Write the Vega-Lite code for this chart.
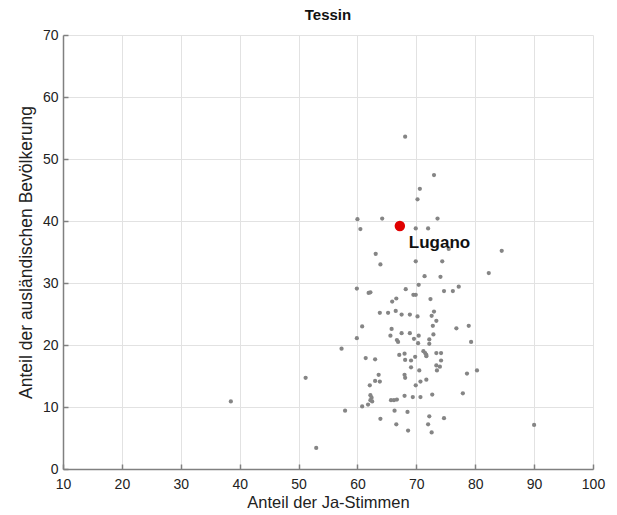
{
  "$schema": "https://vega.github.io/schema/vega-lite/v6.json",
  "autosize": "none",
  "width": 530,
  "height": 434,
  "padding": {"left": 63, "top": 35, "right": 24, "bottom": 46},
  "background": "white",
  "config": {
    "font": "Liberation Sans",
    "view": {"stroke": null},
    "axis": {
      "labelFont": "Liberation Sans",
      "titleFont": "Liberation Sans",
      "labelFontSize": 14,
      "titleFontSize": 16.5,
      "titleFontWeight": "normal",
      "labelColor": "#222",
      "titleColor": "#222",
      "labelFlush": false,
      "domainColor": "#808080",
      "domainWidth": 1.5,
      "tickColor": "#808080",
      "tickWidth": 1.5,
      "tickSize": -5,
      "gridColor": "#e2e2e2",
      "gridWidth": 1
    }
  },
  "title": {"text": "Tessin", "font": "Liberation Sans", "fontSize": 15, "fontWeight": "bold", "color": "#111", "offset": 5},
  "datasets": {
    "gemeinden": [
      {"ja": 68.1, "ausl": 53.6}, {"ja": 73.0, "ausl": 47.4}, {"ja": 70.6, "ausl": 45.2}, {"ja": 70.2, "ausl": 43.5},
      {"ja": 60.0, "ausl": 40.3}, {"ja": 64.2, "ausl": 40.4}, {"ja": 73.6, "ausl": 40.4}, {"ja": 60.5, "ausl": 38.7},
      {"ja": 69.9, "ausl": 38.8}, {"ja": 72.0, "ausl": 38.8}, {"ja": 63.1, "ausl": 34.7}, {"ja": 63.9, "ausl": 33.0},
      {"ja": 69.9, "ausl": 33.5}, {"ja": 74.4, "ausl": 33.5}, {"ja": 84.5, "ausl": 35.2}, {"ja": 75.5, "ausl": 35.5},
      {"ja": 71.4, "ausl": 31.1}, {"ja": 74.1, "ausl": 31.0}, {"ja": 82.3, "ausl": 31.6}, {"ja": 59.9, "ausl": 29.1},
      {"ja": 62.2, "ausl": 28.5}, {"ja": 61.9, "ausl": 28.4}, {"ja": 68.2, "ausl": 29.0}, {"ja": 70.4, "ausl": 29.7},
      {"ja": 69.5, "ausl": 28.1}, {"ja": 69.9, "ausl": 28.1}, {"ja": 74.7, "ausl": 28.7}, {"ja": 76.2, "ausl": 28.7},
      {"ja": 77.2, "ausl": 29.4},
      {"ja": 66.6, "ausl": 27.5}, {"ja": 72.4, "ausl": 27.4}, {"ja": 65.9, "ausl": 27.0}, {"ja": 63.8, "ausl": 25.2},
      {"ja": 65.2, "ausl": 25.2}, {"ja": 66.5, "ausl": 25.5}, {"ja": 67.5, "ausl": 24.9}, {"ja": 68.9, "ausl": 24.9},
      {"ja": 70.2, "ausl": 24.6}, {"ja": 73.0, "ausl": 25.4}, {"ja": 72.6, "ausl": 24.7}, {"ja": 73.4, "ausl": 23.9},
      {"ja": 60.8, "ausl": 23.0}, {"ja": 65.8, "ausl": 22.6}, {"ja": 72.8, "ausl": 23.1}, {"ja": 76.8, "ausl": 22.7},
      {"ja": 78.9, "ausl": 23.1}, {"ja": 59.9, "ausl": 21.1}, {"ja": 65.6, "ausl": 21.5}, {"ja": 67.5, "ausl": 21.9},
      {"ja": 68.9, "ausl": 21.9}, {"ja": 70.4, "ausl": 21.5}, {"ja": 72.9, "ausl": 21.7}, {"ja": 66.7, "ausl": 20.8},
      {"ja": 66.9, "ausl": 20.5}, {"ja": 69.6, "ausl": 21.0}, {"ja": 70.3, "ausl": 20.3}, {"ja": 72.2, "ausl": 20.9},
      {"ja": 72.2, "ausl": 20.2}, {"ja": 79.3, "ausl": 20.5}, {"ja": 57.3, "ausl": 19.4}, {"ja": 67.1, "ausl": 18.4},
      {"ja": 68.0, "ausl": 18.6}, {"ja": 71.2, "ausl": 19.0}, {"ja": 71.5, "ausl": 18.7}, {"ja": 71.7, "ausl": 18.4},
      {"ja": 71.7, "ausl": 18.2}, {"ja": 73.4, "ausl": 18.7}, {"ja": 74.2, "ausl": 18.7}, {"ja": 61.4, "ausl": 17.9},
      {"ja": 63.0, "ausl": 17.7}, {"ja": 68.1, "ausl": 17.6}, {"ja": 69.1, "ausl": 17.5}, {"ja": 69.8, "ausl": 18.1},
      {"ja": 74.2, "ausl": 17.5}, {"ja": 69.1, "ausl": 16.4}, {"ja": 73.4, "ausl": 16.7}, {"ja": 74.0, "ausl": 16.5},
      {"ja": 73.5, "ausl": 15.9}, {"ja": 70.5, "ausl": 15.9}, {"ja": 80.3, "ausl": 15.9}, {"ja": 78.6, "ausl": 15.4},
      {"ja": 51.2, "ausl": 14.7}, {"ja": 63.6, "ausl": 15.2}, {"ja": 68.0, "ausl": 15.2}, {"ja": 68.1, "ausl": 14.7},
      {"ja": 63.0, "ausl": 14.2}, {"ja": 63.8, "ausl": 14.1}, {"ja": 71.7, "ausl": 14.4}, {"ja": 70.7, "ausl": 14.1},
      {"ja": 69.9, "ausl": 13.5}, {"ja": 62.1, "ausl": 13.5}, {"ja": 77.9, "ausl": 12.2}, {"ja": 72.7, "ausl": 12.0},
      {"ja": 62.2, "ausl": 11.9}, {"ja": 62.4, "ausl": 11.5}, {"ja": 62.5, "ausl": 10.9}, {"ja": 62.2, "ausl": 11.1},
      {"ja": 61.8, "ausl": 10.4}, {"ja": 60.8, "ausl": 10.1}, {"ja": 65.7, "ausl": 11.1}, {"ja": 66.2, "ausl": 11.1},
      {"ja": 66.7, "ausl": 11.2}, {"ja": 68.0, "ausl": 11.8}, {"ja": 69.4, "ausl": 11.6}, {"ja": 70.7, "ausl": 11.6},
      {"ja": 57.9, "ausl": 9.4}, {"ja": 66.3, "ausl": 9.4}, {"ja": 68.5, "ausl": 9.2}, {"ja": 72.2, "ausl": 8.5},
      {"ja": 74.7, "ausl": 8.2}, {"ja": 63.9, "ausl": 8.1}, {"ja": 66.6, "ausl": 7.2}, {"ja": 72.0, "ausl": 7.2},
      {"ja": 68.6, "ausl": 6.2}, {"ja": 72.6, "ausl": 5.9}, {"ja": 53.0, "ausl": 3.4}, {"ja": 38.5, "ausl": 10.9},
      {"ja": 90.0, "ausl": 7.1}
    ],
    "lugano": [{"ja": 67.2, "ausl": 39.2, "name": "Lugano"}]
  },
  "layer": [
    {
      "data": {"name": "gemeinden"},
      "mark": {"type": "circle", "color": "#858585", "opacity": 1, "size": 18},
      "encoding": {
        "x": {"field": "ja", "type": "quantitative", "scale": {"domain": [10, 100], "nice": false, "zero": false},
              "axis": {"title": "Anteil der Ja-Stimmen", "values": [10, 20, 30, 40, 50, 60, 70, 80, 90, 100], "labelPadding": 13, "titlePadding": 3}},
        "y": {"field": "ausl", "type": "quantitative", "scale": {"domain": [0, 70], "nice": false},
              "axis": {"title": "Anteil der ausländischen Bevölkerung", "titleFontSize": 17.5, "values": [0, 10, 20, 30, 40, 50, 60, 70], "labelPadding": 10, "titlePadding": 7}}
      }
    },
    {
      "data": {"name": "lugano"},
      "mark": {"type": "circle", "color": "#e00000", "opacity": 1, "size": 110},
      "encoding": {
        "x": {"field": "ja", "type": "quantitative"},
        "y": {"field": "ausl", "type": "quantitative"}
      }
    },
    {
      "data": {"name": "lugano"},
      "mark": {"type": "text", "align": "left", "baseline": "middle", "dx": 9, "dy": 17, "fontSize": 17, "fontWeight": "bold", "font": "Liberation Sans", "color": "#111"},
      "encoding": {
        "x": {"field": "ja", "type": "quantitative"},
        "y": {"field": "ausl", "type": "quantitative"},
        "text": {"field": "name"}
      }
    }
  ]
}
